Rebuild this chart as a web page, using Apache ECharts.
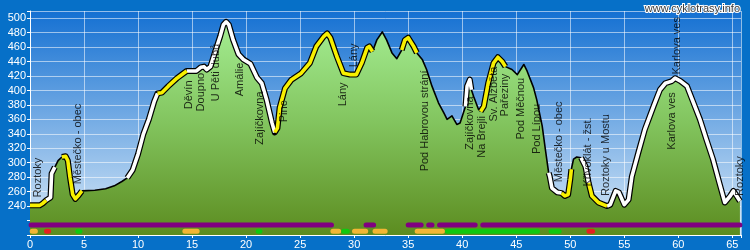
<!DOCTYPE html>
<html><head><meta charset="utf-8">
<script src="https://cdn.jsdelivr.net/npm/echarts@6/dist/echarts.min.js"></script>
<style>html,body{margin:0;padding:0;background:#0670c8;}#c{width:750px;height:250px;}</style>
</head><body><div id="c"></div>
<script>
// ---- data ----
const distanceKm = [0.0,0.9,1.2,1.5,1.9,2.0,2.3,2.6,2.95,3.3,3.5,3.7,3.95,4.2,4.5,4.8,6.0,7.0,7.8,8.5,
  9.0,9.5,10.0,10.5,11.0,11.5,11.8,12.2,12.8,13.6,14.5,15.4,15.8,16.1,16.35,16.7,17.1,17.6,17.9,18.15,
  18.4,18.8,19.3,19.75,20.4,21.0,21.45,21.9,22.4,22.65,22.9,23.1,23.6,24.2,25.1,25.9,26.5,27.2,27.5,27.8,
  28.4,29.0,29.6,30.2,30.7,31.2,31.4,31.7,32.1,32.6,33.0,33.5,33.95,34.4,34.7,35.0,35.5,35.8,36.3,36.7,
  37.2,37.8,38.3,38.6,39.05,39.5,39.8,40.3,40.45,40.7,40.85,41.05,41.5,41.7,42.0,42.4,42.9,43.3,43.7,44.0,
  44.6,45.1,45.7,46.0,46.6,46.9,47.4,47.7,48.0,48.1,48.3,48.8,49.2,49.5,49.8,50.0,50.1,50.3,50.6,51.0,
  51.4,51.7,52.0,52.6,53.4,53.7,54.2,54.5,55.0,55.4,55.7,56.3,56.9,57.7,58.3,58.8,59.4,59.7,60.2,60.8,
  61.4,62.0,62.6,63.2,63.8,64.3,64.8,65.1,65.4,65.7];
const elevationM = [241,241,244,248,252,285,294,303,308,309,303,280,256,250,255,261,262,264,268,274,
  279,290,312,340,360,385,396,397,406,417,427,427,432,433,429,433,452,475,491,495,
  491,470,450,443,437,418,410,387,355,342,348,376,403,415,424,438,461,475,479,473,
  447,424,422,422,438,459,461,454,470,481,470,452,444,456,470,473,461,452,443,429,
  406,383,369,360,365,353,355,378,406,415,401,392,374,371,378,410,438,446,440,433,
  429,422,436,427,404,387,351,318,286,281,265,259,258,254,256,277,291,305,308,307,
  295,272,254,245,240,242,261,259,242,249,281,314,346,378,401,410,413,417,413,406,
  383,360,332,305,272,245,254,261,254,247];
// surface of the stretch that starts at each point: y = yellow, w = white, b = black
const surface = ['y','y','y','w','w','w','b','b','y','y','y','y','y','y','y','b','b','b','b','b',
  'w','w','w','w','w','w','y','y','y','y','w','w','w','w','w','w','w','w','w','w',
  'w','w','w','w','w','w','w','w','w','y','y','y','y','y','y','y','y','y','y','y',
  'y','y','y','y','y','y','y','b','b','b','b','b','b','y','y','y','y','b','b','b',
  'b','b','b','b','b','b','b','w','w','w','b','b','b','y','y','y','y','y','y','b',
  'b','b','b','b','b','b','b','b','w','w','w','w','y','y','y','y','b','b','b','w',
  'w','y','y','y','w','w','w','w','w','w','w','w','w','w','w','w','w','w','w','w',
  'w','w','w','w','w','w','w','w','w','w'];

const placeNames = ['Roztoky','Městečko - obec','Děvín','Doupno','U Pěti dubů','Amálie','Zajíčkovna','Pine',
  'Lány','Lány','Pod Habrovou strání','Zajíčkovna','Na Brejli','Sv. Alžběta','Pařeziny','Pod Měčnou',
  'Pod Lípou','Městečko - obec','Křivoklát - žst.','Roztoky u Mostu','Karlova ves','Karlova ves','Roztoky'];
const placeKm = [0.7,4.4,14.7,15.8,17.2,19.4,21.3,23.5,29.0,30.0,36.6,40.7,41.8,42.9,44.0,45.4,
  46.9,49.0,51.6,53.3,59.4,59.9,65.7];
const placeElev = [252,270,374,371,385,392,325,356,378,432,288,318,307,357,364,332,
  312,273,267,254,318,422,254];

// road type strips [fromKm, toKm]
const purpleStrip = [[0.1,27.9],[31.1,31.8],[35.0,36.2],[36.9,37.2],[37.9,41.2],[41.9,65.7]];
const orangeStrip = [[0.2,0.5],[14.33,15.47],[28.03,28.57],[30.03,31.07],[31.93,32.87],[35.83,38.17],[52.92,52.98]];
const redStrip = [[1.53,1.73],[51.73,52.07],[53.42,53.48]];
const greenStrip = [[4.43,4.62],[21.12,21.28],[29.03,29.37],[38.63,46.97],[48.23,48.97]];
const blueStrip = [[59.58,59.62]];

const xTickStep = 5;
const yTickStep = 20;

// ---- build ----
const chart = echarts.init(document.getElementById('c'), null, {renderer: 'canvas'});
const font = 'Liberation Sans, Arial, sans-serif';

function segData(types) {
  return distanceKm.map((x, i) => {
    const inSeg = types.includes(surface[i]) || (i > 0 && types.includes(surface[i - 1]));
    return inSeg ? [x, elevationM[i]] : [x, null];
  });
}
function stripData(ranges, level) {
  const out = [];
  ranges.forEach(r => { out.push([r[0], level], [r[1], level], [r[1], null]); });
  return out;
}
function lineSeries(data, color, width, z, cap) {
  return {type: 'line', data, showSymbol: false, symbol: 'none', z, silent: true,
    connectNulls: false, animation: false,
    lineStyle: {color, width, cap: cap || 'butt', join: 'round'}};
}
const profile = distanceKm.map((x, i) => [x, elevationM[i]]);

const series = [
  {type: 'line', data: profile, showSymbol: false, symbol: 'none', z: 1, silent: true, animation: false,
   lineStyle: {width: 0},
   areaStyle: {origin: 'start', opacity: 1,
     color: new echarts.graphic.LinearGradient(0, 11, 0, 235, [
       {offset: 0, color: '#a8f298'}, {offset: 0.5, color: '#82c45e'}, {offset: 1, color: '#5c8c20'}], true)}},
  lineSeries(stripData(purpleStrip, 213.8), '#800080', 5, 2, 'round'),
  lineSeries(stripData(orangeStrip, 205.2), '#f2b634', 5, 2, 'round'),
  lineSeries(stripData(redStrip, 205.2), '#e42020', 5, 2, 'round'),
  lineSeries(stripData(greenStrip, 205.2), '#10c810', 5, 2, 'round'),
  lineSeries(stripData(blueStrip, 205.2), '#0000d8', 5, 2, 'round'),
  lineSeries(segData(['w', 'y']), '#000000', 6, 3),
  lineSeries(segData(['b']), '#000000', 1.6, 4),
  lineSeries(segData(['w']), '#ffffff', 3.6, 4),
  lineSeries(segData(['y']), '#f8f000', 3.6, 4),
  {type: 'scatter', z: 6, silent: true, animation: false, symbolSize: 0.1,
   itemStyle: {color: 'rgba(0,0,0,0)'},
   data: placeNames.map((n, i) => ({name: n, value: [placeKm[i], placeElev[i]]})),
   label: {show: true, position: [0, 0], rotate: 90, align: 'left', verticalAlign: 'middle',
     formatter: p => p.name, color: '#000', fontSize: 11, fontFamily: font}}
];

chart.setOption({
  animation: false,
  backgroundColor: '#0670c8',
  grid: {left: 30, right: 9, top: 11, bottom: 15, show: true, borderWidth: 0,
    backgroundColor: new echarts.graphic.LinearGradient(0, 0, 0, 1, [
      {offset: 0, color: '#1470d2'}, {offset: 1, color: '#dbebf8'}])},
  xAxis: {type: 'value', min: 0, max: 65.8, interval: xTickStep,
    axisLine: {show: true, lineStyle: {color: '#ffffff', width: 1}},
    axisTick: {show: true, length: 3, lineStyle: {color: '#ffffff'}},
    axisLabel: {color: '#ffffff', fontSize: 11, fontFamily: font, margin: 4,
      formatter: v => (Math.abs(v % xTickStep) < 1e-6 ? String(v) : '')},
    splitLine: {show: true, lineStyle: {color: 'rgba(255,255,255,0.55)', width: 1}}},
  yAxis: {type: 'value', min: 200, max: 510, interval: yTickStep,
    axisLine: {show: true, lineStyle: {color: '#ffffff', width: 1}},
    axisTick: {show: true, length: 3, lineStyle: {color: '#ffffff'}},
    axisLabel: {color: '#ffffff', fontSize: 11, fontFamily: font, margin: 4,
      formatter: v => (v >= 240 && v <= 500 && v % yTickStep === 0 ? String(v) : '')},
    splitLine: {show: true, lineStyle: {color: 'rgba(255,255,255,0.55)', width: 1}}},
  graphic: [{type: 'text', right: 9, top: 2, z: 10,
    style: {text: 'www.cyklotrasy.info', fill: '#3a3a3a', stroke: '#ffffff', lineWidth: 2,
      font: '11px Liberation Sans, Arial, sans-serif'}}],
  series
});
</script></body></html>
